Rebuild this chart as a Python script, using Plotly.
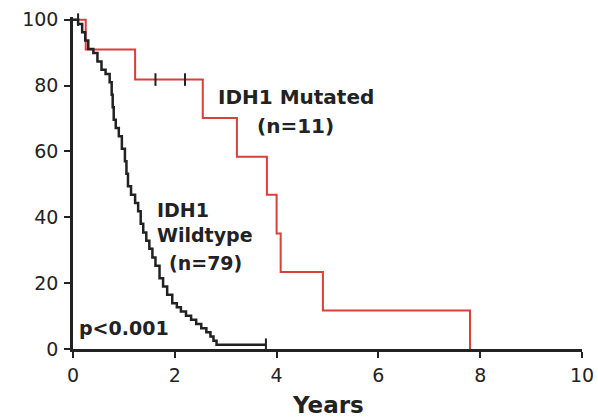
import plotly.graph_objects as go

# --- data (time in years, survival in %) ---
wt_times = [0.00, 0.10, 0.18, 0.24, 0.30, 0.40, 0.48, 0.56, 0.64, 0.72, 0.76, 0.78,
            0.80, 0.84, 0.90, 0.96, 1.02, 1.05, 1.08, 1.14, 1.22, 1.28, 1.33, 1.38,
            1.44, 1.50, 1.56, 1.62, 1.70, 1.77, 1.85, 1.95, 2.04, 2.12, 2.22, 2.32,
            2.42, 2.52, 2.62, 2.70, 2.76, 2.82, 3.79]
wt_surv = [100.0, 98.7, 96.2, 93.7, 91.1, 89.9, 87.3, 84.8, 83.5, 81.0, 77.2, 73.4,
           69.6, 67.1, 64.6, 60.8, 57.0, 53.2, 49.4, 46.8, 44.3, 41.8, 38.0, 35.4,
           32.9, 30.4, 27.8, 25.3, 21.5, 19.0, 16.5, 13.9, 12.7, 11.4, 10.1, 8.9,
           7.6, 6.3, 5.1, 3.8, 2.5, 1.3, 1.3]
wt_cens_t = [0.10, 3.79]
wt_cens_s = [100.0, 1.3]

mut_times = [0.00, 0.25, 1.22, 2.55, 3.22, 3.81, 4.00, 4.08, 4.91, 7.80]
mut_surv = [100.0, 90.9, 81.8, 70.1, 58.4, 46.8, 35.1, 23.4, 11.7, 0.0]
mut_cens_t = [1.62, 2.20]
mut_cens_s = [81.8, 81.8]

x_ticks = [0, 2, 4, 6, 8, 10]
y_ticks = [0, 20, 40, 60, 80, 100]

BLACK = "#222222"
RED = "#d8403a"
FONT = "DejaVu Sans"

fig = go.Figure()
fig.add_trace(go.Scatter(x=mut_times, y=mut_surv, mode="lines", line_shape="hv",
                         line=dict(color=RED, width=2), showlegend=False))
fig.add_trace(go.Scatter(x=mut_cens_t, y=mut_cens_s, mode="markers", cliponaxis=False,
                         marker=dict(symbol="line-ns", size=9, line=dict(color=BLACK, width=2)),
                         showlegend=False))
fig.add_trace(go.Scatter(x=wt_times, y=wt_surv, mode="lines", line_shape="hv",
                         line=dict(color=BLACK, width=2.5), showlegend=False))
fig.add_trace(go.Scatter(x=wt_cens_t, y=wt_cens_s, mode="markers", cliponaxis=False,
                         marker=dict(symbol="line-ns", size=9, line=dict(color=BLACK, width=2)),
                         showlegend=False))

annos = [
    dict(x=4.38, y=76.6, text="<b>IDH1 Mutated</b>", size=20),
    dict(x=4.38, y=67.8, text="<b>(n=11)</b>", size=20),
    dict(x=2.16, y=42.2, text="<b>IDH1</b>", size=19),
    dict(x=2.59, y=34.7, text="<b>Wildtype</b>", size=19),
    dict(x=2.61, y=26.1, text="<b>(n=79)</b>", size=19),
    dict(x=1.01, y=6.4, text="<b>p&lt;0.001</b>", size=19),
]
for a in annos:
    fig.add_annotation(x=a["x"], y=a["y"], text=a["text"], showarrow=False,
                       xanchor="center", yanchor="middle",
                       font=dict(family=FONT, size=a["size"], color=BLACK))

fig.add_annotation(x=0.5, y=-0.169, xref="paper", yref="paper", text="<b>Years</b>",
                   showarrow=False, xanchor="center", yanchor="middle",
                   font=dict(family=FONT, size=23, color=BLACK))

axis_common = dict(showgrid=False, zeroline=False, showline=True, linecolor=BLACK,
                   linewidth=2.5, ticks="outside", ticklen=6, tickwidth=2,
                   tickcolor=BLACK, automargin=False, ticklabeloverflow="allow",
                   tickfont=dict(family=FONT, size=19, color=BLACK))

fig.update_xaxes(range=[0, 10], tickvals=x_ticks, ticklabelstandoff=1, **axis_common)
fig.update_yaxes(range=[0, 100.8], tickvals=y_ticks, ticklabelstandoff=2, **axis_common)

fig.update_layout(width=598, height=417, margin=dict(l=73, r=16, t=17, b=68),
                  plot_bgcolor="white", paper_bgcolor="white",
                  font=dict(family=FONT, color=BLACK))

fig.write_html("out.html", config={"displayModeBar": False},
               post_script="document.body.style.margin='0';document.body.style.overflow='hidden';")
